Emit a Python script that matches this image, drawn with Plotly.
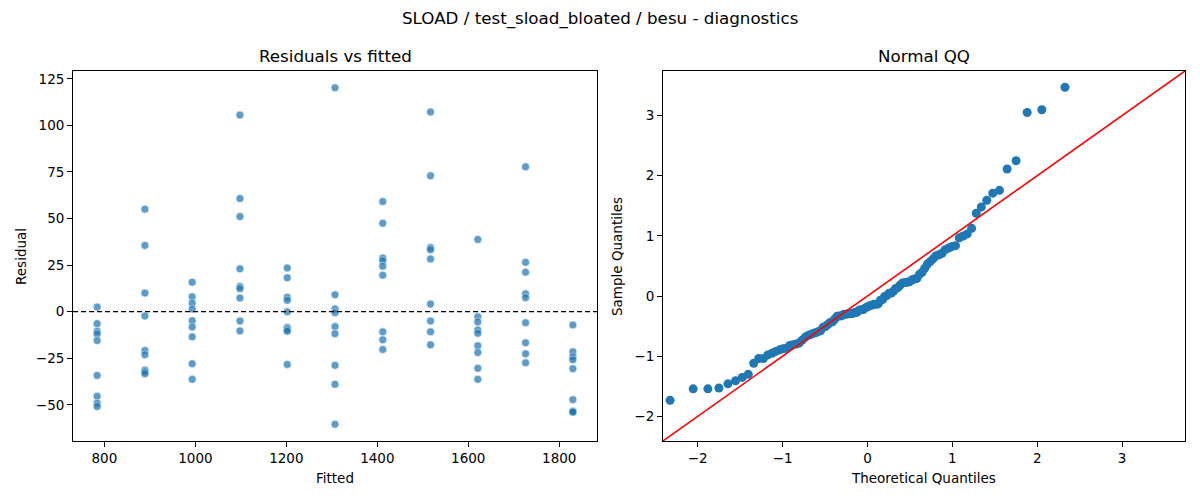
import plotly.graph_objects as go
import numpy as np
from statistics import NormalDist

# fitted value of each group and the residuals seen at it
fitted_levels = [784, 889, 993, 1098, 1202, 1307, 1412, 1517, 1621, 1726, 1830]
res_784 = [2.5, -6.4, -10.5, -11.9, -15.5, -34.2, -45.4, -49.1, -50.9]
res_889 = [55, 35.6, 10.0, -2.3, -20.8, -23.1, -31.3, -32.2, -33.3]
res_993 = [15.8, 8.0, 4.6, 1.4, -4.8, -8.2, -13.5, -27.9, -36.3]
res_1098 = [105.6, 60.7, 51.1, 23.0, 13.5, 12.3, 7.3, -5.0, -10.3]
res_1202 = [23.5, 18.2, 7.7, 6.1, 0.0, -8.5, -9.6, -10.5, -28.3]
res_1307 = [120.2, 9.1, 1.5, -0.5, -8.0, -11.8, -28.8, -39.0, -60.4]
res_1412 = [59.1, 47.5, 28.8, 27.4, 24.4, 19.6, -10.8, -15.1, -20.3]
res_1517 = [107.2, 73.0, 34.4, 33.3, 28.3, 4.1, -5.0, -10.8, -17.8]
res_1621 = [38.8, -2.7, -5.5, -9.8, -11.6, -18.3, -21.9, -30.4, -36.3]
res_1726 = [77.8, 26.5, 21.2, 9.6, 7.5, -5.9, -16.7, -22.6, -27.4]
res_1830 = [-7.1, -21.5, -24.2, -25.8, -30.6, -47.2, -53.3, -53.8, -53.8]
residual_groups = [res_784, res_889, res_993, res_1098, res_1202, res_1307,
                   res_1412, res_1517, res_1621, res_1726, res_1830]

left_xticks = [800, 1000, 1200, 1400, 1600, 1800]
left_yticks = [-50, -25, 0, 25, 50, 75, 100, 125]
qq_ticks = [-2, -1, 0, 1, 2, 3]
qq_lims = [-2.41, 3.74]

fitted = []
resid = []
for lvl, grp in zip(fitted_levels, residual_groups):
    fitted += [lvl] * len(grp)
    resid += grp
resid = np.array(resid)

# normal QQ of the standardized residuals
sample_q = np.sort((resid - resid.mean()) / resid.std(ddof=1))
n = len(sample_q)
theo_q = [NormalDist().inv_cdf(i / (n + 1)) for i in range(1, n + 1)]

font = 'DejaVu Sans'
C0 = '#1f77b4'

fig = go.Figure()
fig.add_trace(go.Scatter(x=fitted, y=resid, mode='markers',
                         marker={'size': 8, 'color': C0, 'opacity': 0.72,
                                 'line': {'color': 'white', 'width': 0.6}},
                         xaxis='x', yaxis='y', showlegend=False))
fig.add_trace(go.Scatter(x=theo_q, y=sample_q, mode='markers',
                         marker={'size': 9, 'color': C0},
                         xaxis='x2', yaxis='y2', showlegend=False))
fig.add_trace(go.Scatter(x=qq_lims, y=qq_lims, mode='lines',
                         line={'color': 'red', 'width': 1.6},
                         xaxis='x2', yaxis='y2', showlegend=False))

fig.add_shape(type='line', xref='x domain', yref='y', x0=0, x1=1, y0=0, y1=0,
              line={'color': 'black', 'width': 1.3, 'dash': '5px,3px'})

ax = dict(showline=True, mirror=True, linecolor='black', linewidth=1,
          ticks='outside', ticklen=5, tickcolor='black', showgrid=False,
          zeroline=False, automargin=False,
          tickfont={'size': 13.5, 'color': 'black'})

# page body adds an 8px offset, domains below already account for it
fig.update_layout(
    width=1200, height=500,
    paper_bgcolor='white', plot_bgcolor='white',
    font={'family': font, 'color': 'black'},
    margin={'l': 0, 'r': 0, 't': 0, 'b': 0, 'pad': 0},
    xaxis=dict(ax, domain=[0.0542, 0.4908], range=[731, 1883], tickvals=left_xticks),
    yaxis=dict(ax, domain=[0.134, 0.874], range=[-69.4, 129.2], tickvals=left_yticks),
    xaxis2=dict(ax, domain=[0.5458, 0.9808], range=qq_lims, tickvals=qq_ticks, anchor='y2'),
    yaxis2=dict(ax, domain=[0.134, 0.874], range=qq_lims, tickvals=qq_ticks, anchor='x2'),
)

ann = [
    ('SLOAD / test_sload_bloated / besu - diagnostics', 0.4933, 0.98, 16.7, 0),
    ('Residuals vs fitted', 0.2725, 0.904, 16.7, 0),
    ('Normal QQ', 0.7633, 0.904, 16.7, 0),
    ('Fitted', 0.2725, 0.06, 13.5, 0),
    ('Theoretical Quantiles', 0.7633, 0.06, 13.5, 0),
    ('Residual', 0.0108, 0.504, 13.5, -90),
    ('Sample Quantiles', 0.5075, 0.504, 13.5, -90),
]
for text, x, y, size, ang in ann:
    fig.add_annotation(text=text, x=x, y=y, xref='paper', yref='paper',
                       xanchor='center', yanchor='middle',
                       showarrow=False, textangle=ang,
                       font={'size': size, 'family': font, 'color': 'black'})

fig.write_html('out.html')
